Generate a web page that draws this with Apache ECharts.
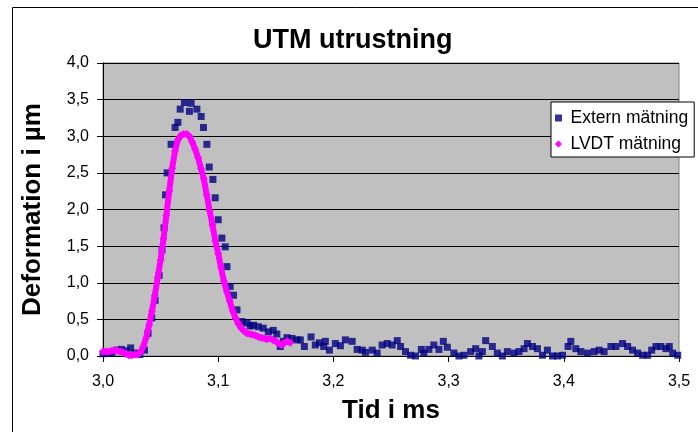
<!DOCTYPE html>
<html>
<head>
<meta charset="utf-8">
<script src="https://cdn.jsdelivr.net/npm/echarts@6/dist/echarts.min.js"></script>
<style>
html,body{margin:0;padding:0;background:#fff;}
#chart{width:698px;height:432px;}
</style>
</head>
<body>
<div id="chart"></div>
<script>
// ---- data ----
var titleText = 'UTM utrustning';
var xAxisName = 'Tid i ms';
var yAxisName = 'Deformation i µm';
var seriesNames = ['Extern mätning', 'LVDT mätning'];

var externTime = [
  3.0000, 3.0040, 3.0078, 3.0120, 3.0160, 3.0200, 3.0240, 3.0278, 3.0320, 3.0360,
  3.0391, 3.0423, 3.0452, 3.0487, 3.0513, 3.0530, 3.0543, 3.0557, 3.0591, 3.0626,
  3.0650, 3.0670, 3.0707, 3.0750, 3.0765, 3.0815, 3.0852, 3.0872, 3.0902, 3.0922,
  3.0954, 3.0974, 3.1000, 3.1032, 3.1061, 3.1076, 3.1104, 3.1133, 3.1163, 3.1206,
  3.1250, 3.1278, 3.1307, 3.1348, 3.1391, 3.1435, 3.1478, 3.1509, 3.1539, 3.1565,
  3.1597, 3.1641, 3.1684, 3.1713, 3.1748, 3.1806, 3.1843, 3.1878, 3.1916, 3.1930,
  3.1965, 3.2017, 3.2061, 3.2104, 3.2163, 3.2206, 3.2250, 3.2278, 3.2337, 3.2380,
  3.2423, 3.2467, 3.2510, 3.2554, 3.2583, 3.2626, 3.2670, 3.2713, 3.2763, 3.2785,
  3.2829, 3.2872, 3.2916, 3.2954, 3.2989, 3.3046, 3.3090, 3.3133, 3.3191, 3.3235,
  3.3263, 3.3293, 3.3322, 3.3380, 3.3423, 3.3467, 3.3510, 3.3568, 3.3611, 3.3655,
  3.3684, 3.3728, 3.3771, 3.3815, 3.3858, 3.3902, 3.3945, 3.3989, 3.4037, 3.4061,
  3.4104, 3.4148, 3.4206, 3.4263, 3.4307, 3.4350, 3.4409, 3.4452, 3.4510, 3.4554,
  3.4597, 3.4641, 3.4684, 3.4728, 3.4763, 3.4800, 3.4843, 3.4887, 3.4916, 3.4945,
  3.4989
];
var externValue = [
  0.03, 0.05, 0.04, 0.08, 0.09, 0.07, 0.11, 0.04, 0.02, 0.08,
  0.31, 0.52, 0.76, 1.10, 1.45, 1.75, 2.20, 2.50, 2.89, 3.12,
  3.19, 3.37, 3.46, 3.34, 3.45, 3.37, 3.27, 3.12, 2.89, 2.58,
  2.41, 2.16, 1.86, 1.61, 1.49, 1.22, 0.95, 0.83, 0.63, 0.47,
  0.45, 0.41, 0.42, 0.40, 0.38, 0.33, 0.35, 0.30, 0.13, 0.20,
  0.25, 0.24, 0.22, 0.22, 0.13, 0.26, 0.15, 0.18, 0.13, 0.20,
  0.08, 0.17, 0.14, 0.22, 0.20, 0.09, 0.08, 0.05, 0.08, 0.04,
  0.15, 0.17, 0.15, 0.21, 0.13, 0.06, 0.01, 0.00, 0.09, 0.04,
  0.09, 0.15, 0.09, 0.20, 0.12, 0.04, 0.00, 0.01, 0.06, 0.10,
  0.00, 0.06, 0.21, 0.13, 0.04, 0.00, 0.06, 0.04, 0.06, 0.10,
  0.17, 0.13, 0.10, 0.01, 0.08, 0.00, 0.00, 0.01, 0.13, 0.20,
  0.10, 0.06, 0.04, 0.06, 0.08, 0.06, 0.13, 0.13, 0.17, 0.13,
  0.08, 0.04, 0.01, 0.01, 0.08, 0.13, 0.13, 0.10, 0.13, 0.04,
  0.01
];

var lvdtTime = [
  3.0000, 3.0025, 3.0050, 3.0075, 3.0100, 3.0125, 3.0150, 3.0175, 3.0200, 3.0225,
  3.0250, 3.0275, 3.0300, 3.0325, 3.0350, 3.0375, 3.0400, 3.0425, 3.0450, 3.0475,
  3.0500, 3.0525, 3.0550, 3.0575, 3.0600, 3.0625, 3.0650, 3.0675, 3.0700, 3.0725,
  3.0750, 3.0775, 3.0800, 3.0825, 3.0850, 3.0875, 3.0900, 3.0925, 3.0950, 3.0975,
  3.1000, 3.1025, 3.1050, 3.1075, 3.1100, 3.1125, 3.1150, 3.1175, 3.1200, 3.1225,
  3.1250, 3.1275, 3.1300, 3.1325, 3.1350, 3.1375, 3.1400, 3.1425, 3.1450, 3.1475,
  3.1500, 3.1525, 3.1550, 3.1575, 3.1600, 3.1625
];
var lvdtValue = [
  0.06, 0.06, 0.06, 0.07, 0.08, 0.07, 0.06, 0.05, 0.03, 0.01,
  0.01, 0.02, 0.02, 0.05, 0.13, 0.25, 0.42, 0.61, 0.83, 1.07,
  1.31, 1.60, 1.92, 2.25, 2.56, 2.80, 2.95, 3.01, 3.03, 3.03,
  3.00, 2.92, 2.82, 2.71, 2.56, 2.42, 2.20, 1.99, 1.79, 1.57,
  1.40, 1.20, 1.02, 0.88, 0.75, 0.62, 0.52, 0.44, 0.38, 0.34,
  0.31, 0.30, 0.29, 0.28, 0.26, 0.25, 0.24, 0.23, 0.24, 0.22,
  0.20, 0.17, 0.15, 0.18, 0.20, 0.18
];

var xMin = 3.0, xMax = 3.5, xStep = 0.1;
var yMin = 0, yMax = 4, yStep = 0.5;

// ---- build chart ----
function pairs(xs, ys) {
  var out = [];
  for (var i = 0; i < xs.length; i++) out.push([xs[i], ys[i]]);
  return out;
}
function comma(v) { return v.toFixed(1).replace('.', ','); }

var FONT = 'Liberation Sans, Arial, sans-serif';
var chart = echarts.init(document.getElementById('chart'), null, {renderer: 'canvas'});
chart.setOption({
  animation: false,
  backgroundColor: '#ffffff',
  textStyle: {fontFamily: FONT},
  title: {
    text: titleText,
    left: 253,
    top: 27,
    padding: 0,
    textStyle: {fontFamily: FONT, fontSize: 27, fontWeight: 'bold', color: '#000'}
  },
  legend: {
    orient: 'vertical',
    left: 551,
    top: 102,
    padding: [6, 6, 3, 4],
    itemGap: 6,
    itemWidth: 14,
    itemHeight: 7,
    backgroundColor: '#ffffff',
    borderColor: '#000000',
    borderWidth: 1,
    borderRadius: 0,
    textStyle: {fontFamily: FONT, fontSize: 17.5, color: '#000', lineHeight: 20},
    data: [
      {name: seriesNames[0], icon: 'path://M0,0L1,0L1,1L0,1Z'},
      {name: seriesNames[1], icon: 'path://M0.5,0L1,0.5L0.5,1L0,0.5Z'}
    ]
  },
  grid: {
    left: 103, right: 19, top: 63, bottom: 76,
    show: true,
    backgroundColor: '#C0C0C0',
    borderColor: '#808080',
    borderWidth: 1
  },
  xAxis: {
    type: 'value',
    min: xMin, max: xMax, interval: xStep,
    name: xAxisName,
    nameLocation: 'middle',
    nameGap: 42,
    nameTextStyle: {fontFamily: FONT, fontSize: 26, fontWeight: 'bold', color: '#000'},
    axisLine: {show: true, onZero: false, lineStyle: {color: '#000', width: 1}},
    axisTick: {show: true, length: 6, lineStyle: {color: '#000'}},
    axisLabel: {formatter: comma, fontFamily: FONT, fontSize: 16, color: '#000', margin: 18},
    splitLine: {show: false}
  },
  yAxis: {
    type: 'value',
    min: yMin, max: yMax, interval: yStep,
    name: yAxisName,
    nameLocation: 'middle',
    nameGap: 57,
    nameTextStyle: {fontFamily: FONT, fontSize: 26, fontWeight: 'bold', color: '#000'},
    axisLine: {show: true, lineStyle: {color: '#000', width: 1}},
    axisTick: {show: true, length: 6, lineStyle: {color: '#000'}},
    axisLabel: {formatter: comma, fontFamily: FONT, fontSize: 16, color: '#000', margin: 14},
    splitLine: {show: true, lineStyle: {color: '#000', width: 1}}
  },
  graphic: [{
    type: 'rect',
    shape: {x: 12.5, y: 7.5, width: 700, height: 440},
    style: {fill: 'none', stroke: '#000', lineWidth: 1},
    silent: true,
    z: 100
  }],
  series: [
    {
      name: seriesNames[0],
      type: 'scatter',
      data: pairs(externTime, externValue),
      symbol: 'rect',
      symbolSize: 7,
      clip: false,
      itemStyle: {color: '#000080'},
      z: 2
    },
    {
      name: seriesNames[1],
      type: 'line',
      data: pairs(lvdtTime, lvdtValue),
      symbol: 'diamond',
      symbolSize: 8,
      showSymbol: true,
      showAllSymbol: true,
      clip: false,
      lineStyle: {color: '#FF00FF', width: 6},
      itemStyle: {color: '#FF00FF', borderWidth: 0},
      z: 3
    }
  ]
});
</script>
</body>
</html>
